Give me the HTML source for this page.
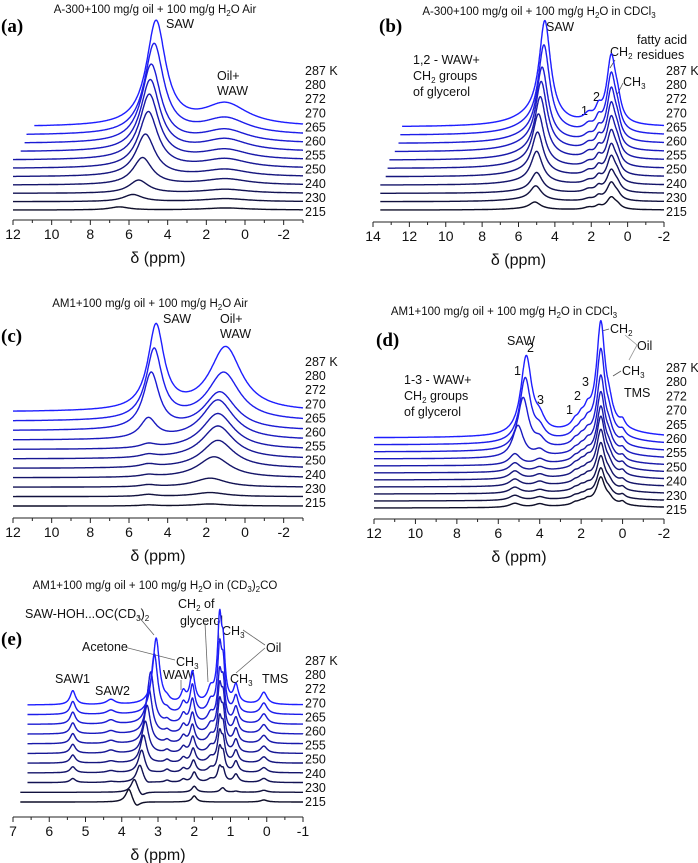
<!DOCTYPE html>
<html><head><meta charset="utf-8"><style>
html,body{margin:0;padding:0;background:#fff}
svg{display:block;font-family:"Liberation Sans",sans-serif}
.t{font-size:11.5px;fill:#111}
.tk{font-size:14px;fill:#111}
.lb{font-size:12.5px;fill:#111}
.pl{font-family:"Liberation Serif",serif;font-weight:bold;font-size:19px;fill:#000}
.xl{font-size:16px;fill:#111}
.an{font-size:12.5px;fill:#111}
</style></head><body>
<svg id="fig" width="698" height="863" viewBox="0 0 698 863">
<g>
<text class="t" x="155" y="13" text-anchor="middle">A-300+100 mg/g oil + 100 mg/g H<tspan font-size="8" dy="3">2</tspan><tspan dy="-3">O Air</tspan></text>
<text class="pl" x="1" y="32">(a)</text>
<text class="an" x="166" y="28">SAW</text>
<text class="an" x="217" y="80">Oil+</text>
<text class="an" x="217" y="95">WAW</text>
</g>
<g>
<text class="t" x="539" y="15" text-anchor="middle">A-300+100 mg/g oil + 100 mg/g H<tspan font-size="8" dy="3">2</tspan><tspan dy="-3">O in CDCl</tspan><tspan font-size="8" dy="3">3</tspan></text>
<text class="pl" x="379" y="32">(b)</text>
<text class="an" x="546" y="31">SAW</text>
<text class="an" x="413" y="64">1,2 - WAW+</text>
<text class="an" x="413" y="80">CH<tspan font-size="8" dy="3">2</tspan><tspan dy="-3"> groups</tspan></text>
<text class="an" x="413" y="96">of glycerol</text>
<text class="an" x="610" y="56">CH<tspan font-size="8" dy="3">2</tspan></text>
<text class="an" x="637" y="44">fatty acid</text>
<text class="an" x="637" y="59">residues</text>
<text class="an" x="623" y="86">CH<tspan font-size="8" dy="3">3</tspan></text>
<text class="an" x="581" y="115">1</text>
<text class="an" x="593" y="101">2</text>
<line x1="615" y1="60" x2="610" y2="68" stroke="#555" stroke-width="0.8"/>
<line x1="623" y1="83" x2="617" y2="95" stroke="#555" stroke-width="0.8"/>
</g>
<g>
<text class="t" x="150" y="307" text-anchor="middle">AM1+100 mg/g oil + 100 mg/g H<tspan font-size="8" dy="3">2</tspan><tspan dy="-3">O Air</tspan></text>
<text class="pl" x="1" y="342">(c)</text>
<text class="an" x="163" y="323">SAW</text>
<text class="an" x="220" y="323">Oil+</text>
<text class="an" x="220" y="338">WAW</text>
</g>
<g>
<text class="t" x="504" y="315" text-anchor="middle">AM1+100 mg/g oil + 100 mg/g H<tspan font-size="8" dy="3">2</tspan><tspan dy="-3">O in CDCl</tspan><tspan font-size="8" dy="3">3</tspan></text>
<text class="pl" x="376" y="346">(d)</text>
<text class="an" x="507" y="345">SAW</text>
<text class="an" x="527" y="352">2</text>
<text class="an" x="514" y="375">1</text>
<text class="an" x="537" y="404">3</text>
<text class="an" x="404" y="384">1-3 - WAW+</text>
<text class="an" x="404" y="400">CH<tspan font-size="8" dy="3">2</tspan><tspan dy="-3"> groups</tspan></text>
<text class="an" x="404" y="416">of glycerol</text>
<text class="an" x="566" y="414">1</text>
<text class="an" x="574" y="400">2</text>
<text class="an" x="582" y="386">3</text>
<text class="an" x="610" y="333">CH<tspan font-size="8" dy="3">2</tspan></text>
<text class="an" x="637" y="350">Oil</text>
<text class="an" x="622" y="375">CH<tspan font-size="8" dy="3">3</tspan></text>
<text class="an" x="624" y="397">TMS</text>
<polyline points="625,335 637,345 629,360" fill="none" stroke="#999" stroke-width="0.8"/>
<line x1="609" y1="329" x2="602" y2="331" stroke="#555" stroke-width="0.8"/>
<line x1="621" y1="371" x2="613" y2="376" stroke="#555" stroke-width="0.8"/>
</g>
<g>
<text class="t" x="155" y="589" text-anchor="middle">AM1+100 mg/g oil + 100 mg/g H<tspan font-size="8" dy="3">2</tspan><tspan dy="-3">O in (CD</tspan><tspan font-size="8" dy="3">3</tspan><tspan dy="-3">)</tspan><tspan font-size="8" dy="3">2</tspan><tspan dy="-3">CO</tspan></text>
<text class="pl" x="1" y="645">(e)</text>
<text class="an" x="25" y="618">SAW-HOH...OC(CD<tspan font-size="8" dy="3">3</tspan><tspan dy="-3">)</tspan><tspan font-size="8" dy="3">2</tspan></text>
<text class="an" x="178" y="608">CH<tspan font-size="8" dy="3">2</tspan><tspan dy="-3"> of</tspan></text>
<text class="an" x="180" y="625">glycerol</text>
<text class="an" x="82" y="651">Acetone</text>
<text class="an" x="176" y="666">CH<tspan font-size="8" dy="3">3</tspan></text>
<text class="an" x="163" y="679">WAW</text>
<text class="an" x="222" y="635">CH<tspan font-size="8" dy="3">3</tspan></text>
<text class="an" x="266" y="652">Oil</text>
<text class="an" x="230" y="683">CH<tspan font-size="8" dy="3">3</tspan></text>
<text class="an" x="262" y="683">TMS</text>
<text class="an" x="55" y="683">SAW1</text>
<text class="an" x="95" y="695">SAW2</text>
<g stroke="#666" stroke-width="0.8" fill="none">
<line x1="138" y1="616" x2="154" y2="635"/>
<line x1="124" y1="647" x2="175" y2="660"/>
<line x1="181" y1="680" x2="181" y2="690"/>
<line x1="205" y1="623" x2="208" y2="682"/>
<line x1="218" y1="621" x2="219" y2="640"/>
<line x1="265" y1="645" x2="243" y2="630"/>
<line x1="265" y1="648" x2="236" y2="673"/>
</g>
</g>
<g id="plots"></g>
</svg>
<script>
const temps = [215,230,240,250,255,260,265,270,272,280,287];
// ---- panel a ----
const aSawPos = [6.5,5.8,5.5,5.3,5.15,5.0,4.95,4.9,4.85,4.7,4.6];
const aSawH = [3,7,13,27,42,56,65,71,78,90,104];
const aOilPos = [1.0,1.0,1.0,1.0,1.0,1.0,1.0,1.0,1.0,1.0,1.0];
const aOilH = [2,3,4,6,7,9,10,12,13,16,22];
const aStart = [12,12,12,12,12,12,12,11.6,11.4,11.3,10.9];
// ---- panel b ----
const bSawPos = [5.1,5.05,5.0,5.0,4.95,4.9,4.8,4.75,4.7,4.6,4.55];
const bSawH = [7,14,19,31,41,50,58,64,70,83,98];
const bBroadH = [1,2,2,3,4,5,6,7,7,8,9];
const bCh2H = [12,18,22,27,30,35,40,45,51,57,66];
const bCh3H = [3,4,5,6,7,8,9,10,11,12,14];
const bP2H = [3,4,5,6,7,8,8,9,9,10,11];
const bP1H = [2,2,3,3,4,4,5,5,5,6,7];
const bStart = [13.6,13.6,13.6,13.6,13.3,13.2,13.1,12.8,12.6,12.5,12.4];
// ---- panel c ----
const cSawPos = [5,5,5,5,5,5,5,5.0,4.85,4.7,4.6];
const cSawH = [1,2,2,2,3,3,4,20,56,70,84];
const cOilPos = [1.8,1.8,1.8,1.6,1.4,1.4,1.4,1.4,1.3,1.1,1.0];
const cOilH = [2,4,9,21,28,33,36,40,38,48,64];
// ---- panel d ----
const dSawPos = [5.2,5.2,5.2,5.2,5.2,5.2,5.2,5.05,4.8,4.7,4.65];
const dSawH = [4,5,6,7,8,9,11,32,52,64,78];
const dP3sH = [3,3,3,4,4,4,5,6,8,10,12];
const dCh2H = [25,27,31,36,41,46,49,55,63,80,98];
const dBroadH = [5,5,6,7,8,9,9,10,11,13,15];
const dCh3H = [4,4,5,5,6,6,7,8,9,11,13];
const dTmsH = [3,3,3,3,4,4,4,4,5,5,6];
const dW1H = [2,2,2,2,3,3,3,3,4,4,5];
const dW2H = [2,2,3,3,3,4,4,4,5,6,7];
const dW3H = [3,3,3,4,4,5,5,6,7,8,10];
// ---- panel e ----
const eMainPos = [3.8,3.65,3.5,3.45,3.4,3.35,3.3,3.25,3.2,3.1,3.05];
const eMainH = [14,14,18,23,28,32,38,45,52,60,66];
const eDipPos = [3.6,3.45,3.3,3.25,3.2,3.15,3.1,3.05,3.0,2.9,2.85];
const eDipH = [-6,-5,-3,-2,-1,0,0,0,0,0,0];
const eSaw1H = [0,0,4,6,8,9,10,11,12,13,14];
const eSaw2H = [0,0,1,2,2,3,3,3,4,4,5];
const eW275H = [0,0,2,3,3,3,3,3,3,3,3];
const eWawH = [0,0,3,4,5,6,7,8,9,10,11];
const eAcH = [6,6,10,12,14,16,18,20,24,28,31];
const eGlyH = [0,0,3,4,5,6,7,8,9,11,13];
const eOil1H = [0,2,14,23,28,32,38,43,46,62,80];
const eOil2H = [0,3,10,15,18,22,26,30,34,40,45];
const eCh3H = [0,1,8,11,12,13,14,15,16,17,18];
const eTmsH = [2,2,4,5,6,7,8,9,10,11,12];
const eStart = [6.8,6.8,6.6,6.6,6.6,6.6,6.6,6.6,6.6,6.6,6.6];

function lor(x,p,h,w){return h*w*w/((x-p)*(x-p)+w*w);}
const NS='http://www.w3.org/2000/svg';
const root=document.getElementById('plots');
function mk(tag,attrs,parent){const e=document.createElementNS(NS,tag);for(const k in attrs)e.setAttribute(k,attrs[k]);(parent||root).appendChild(e);return e;}
function fill(v){return [v,v,v,v,v,v,v,v,v,v,v];}

const panels=[
 {id:'a',x0:13,p0:12,x1:303,p1:-3,axisY:220,base0:210,step:8.3,tx:305,ty0:212,tstep:14.1,ticks:[12,10,8,6,4,2,0,-2],minor:1,start:aStart,ds:0.02,
  comps:[[aSawPos,aSawH,0.6],[aOilPos,aOilH,1.4]]},
 {id:'b',x0:373,p0:14,x1:664,p1:-2,axisY:222,base0:210,step:8.3,tx:666,ty0:212,tstep:14.1,ticks:[14,12,10,8,6,4,2,0,-2],minor:1,start:bStart,ds:0.01,
  comps:[[bSawPos,bSawH,0.38],[bSawPos.map(v=>v+0.6),bBroadH,1.5],[fill(0.9),bCh2H,0.3],[fill(0.55),bCh3H,0.22],[fill(1.6),bP2H,0.2],[fill(2.15),bP1H,0.3]]},
 {id:'c',x0:13,p0:12,x1:303,p1:-3,axisY:518,base0:506,step:9.4,tx:305,ty0:503,tstep:14.1,ticks:[12,10,8,6,4,2,0,-2],minor:1,start:null,ds:0.02,
  comps:[[cSawPos,cSawH,0.5],[cOilPos,cOilH,1.0]]},
 {id:'d',x0:374,p0:12,x1:664,p1:-2,axisY:519,base0:508,step:7.0,tx:666,ty0:510,tstep:14.2,ticks:[12,10,8,6,4,2,0,-2],minor:1,start:null,ds:0.01,
  comps:[[dSawPos,dSawH,0.32],[fill(4.0),dP3sH,0.3],[fill(1.05),dCh2H,0.24],[fill(1.2),dBroadH,1.3],[fill(0.65),dCh3H,0.2],[fill(0),dTmsH,0.15],[fill(2.3),dW1H,0.18],[fill(2.0),dW2H,0.18],[fill(1.7),dW3H,0.18]]},
 {id:'e',x0:13,p0:7,x1:303,p1:-1,axisY:817,base0:802,step:9.7,tx:305,ty0:802,tstep:14.1,ticks:[7,6,5,4,3,2,1,0,-1],minor:0.5,start:eStart,ds:0.004,
  comps:[[eMainPos,eMainH,0.11],[eDipPos,eDipH,0.12],[fill(5.35),eSaw1H,0.09],[fill(4.3),eSaw2H,0.14],[fill(2.75),eW275H,0.08],[fill(2.3),eWawH,0.08],[[2.0,2.0,2.0,2.02,2.03,2.04,2.05,2.05,2.05,2.05,2.05],eAcH,0.08],[fill(1.55),eGlyH,0.1],[[1.25,1.25,1.3,1.3,1.3,1.3,1.3,1.3,1.3,1.3,1.3],eOil1H,0.07],[fill(1.2),eOil2H,0.06],[fill(0.85),eCh3H,0.08],[fill(0.08),eTmsH,0.11]]}
];

function color(i,n){const t=i/(n-1);const b=Math.round(40+215*t);const rg=Math.round(15+15*t);return 'rgb('+rg+','+rg+','+b+')';}

panels.forEach(P=>{
  const g=mk('g',{});
  
  
  const sx=p=>P.x0+(p-P.p0)*(P.x1-P.x0)/(P.p1-P.p0);
  const ax=mk('line',{x1:P.x0,y1:P.axisY,x2:P.x1,y2:P.axisY,stroke:'#222','stroke-width':1},g);
  
  
  for(let p=P.p0;p>=P.p1-1e-9;p-=P.minor){
    const isMaj=P.ticks.some(t=>Math.abs(t-p)<1e-6);
    mk('line',{x1:sx(p),y1:P.axisY,x2:sx(p),y2:P.axisY+(isMaj?5:3),stroke:'#222','stroke-width':1},g);
  }
  P.ticks.forEach(t=>{
    const tl=mk('text',{x:sx(t),y:P.axisY+19,'text-anchor':'middle',class:'tk'},g);
    tl.textContent=String(t);
    
    
  });
  const xl=mk('text',{x:(P.x0+P.x1)/2,y:P.axisY+43,'text-anchor':'middle',class:'xl'},g);
  xl.textContent='\u03b4 (ppm)';
  
  
  const n=temps.length;
  for(let i=0;i<n;i++){
    const base=P.base0-i*P.step;
    const st=P.start?P.start[i]:P.p0;
    let d='';
    for(let p=st;p>=P.p1-1e-9;p-=P.ds){
      let v=0;
      P.comps.forEach(c=>{v+=lor(p,c[0][i],c[1][i],c[2]);});
      d+=(d?'L':'M')+sx(p).toFixed(1)+','+(base-v).toFixed(1);
    }
    const path=mk('path',{d:d,fill:'none',stroke:color(i,n),'stroke-width':1.4},g);
    
    
    const tt=mk('text',{x:P.tx,y:P.ty0-i*P.tstep+4,class:'lb'},g);
    tt.textContent=temps[i]+(i===n-1?' K':'');
    
    
  }
});
</script>
</body></html>
